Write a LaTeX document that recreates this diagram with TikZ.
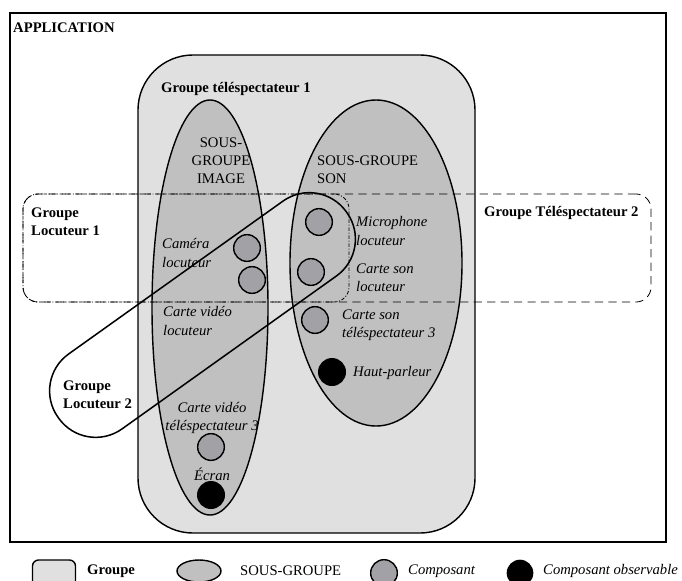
\documentclass[tikz,border=0pt]{standalone}
\usepackage{fontspec}
\setmainfont{Liberation Serif}
\usetikzlibrary{positioning,shapes.geometric}
\definecolor{grpGray}{RGB}{224,224,224}
\definecolor{subGray}{RGB}{192,192,192}
\definecolor{compGray}{RGB}{162,162,166}
\tikzset{
    base/.style={font=\fontsize{12.5}{15.5}\selectfont, inner sep=0pt},
    title/.style={base, font=\fontsize{12.5}{15.5}\selectfont\bfseries, align=left, anchor=west},
    plain/.style={base, align=left, anchor=west},
    remark/.style={base, font=\fontsize{12.5}{15.5}\selectfont\itshape, align=left, anchor=west},
    groupbox/.style={rectangle, draw, line width=1.2pt, fill=grpGray, rounded corners=1.65cm, inner sep=0pt},
    subgroup/.style={ellipse, draw, line width=1.2pt, fill=subGray, inner sep=0pt},
    comp/.style={circle, draw, line width=1.2pt, fill=compGray, minimum size=0.8cm, inner sep=0pt},
    obscomp/.style={circle, fill=black, minimum size=0.84cm, inner sep=0pt},
    gatherdash/.style={rectangle, draw, line width=0.7pt, rounded corners=0.45cm, inner sep=0pt,
                       minimum width=18.84cm, minimum height=3.24cm, dash pattern=on 7pt off 4.5pt},
    gatherdot/.style={rectangle, draw, line width=0.7pt, rounded corners=0.45cm, inner sep=0pt,
                      minimum width=9.78cm, minimum height=3.24cm, dash pattern=on 3pt off 1.5pt on 0.8pt off 1.5pt}
}
\begin{document}
\begin{tikzpicture}[x=0.03cm, y=-0.03cm]
  \useasboundingbox (0,0) rectangle (682,580);
  \clip (0,0) rectangle (682,580);

  % Application frame
  \node[rectangle, draw, line width=1.7pt, minimum width=19.68cm, minimum height=15.87cm, inner sep=0pt] (app) at (338,277.5) {};
  \node[title] (appname) at (13,28) {APPLICATION};

  % Groupe telespectateur 1 and its sub-groups
  \node[groupbox, minimum width=10.11cm, minimum height=14.34cm] (tel1) at (306.5,294) {};
  \node[title] (tel1name) at (161,89) {Groupe téléspectateur 1};
  \node[subgroup, minimum width=3.48cm, minimum height=12.45cm] (image) at (210,307.5) {};
  \node[subgroup, minimum width=5.16cm, minimum height=9.78cm] (son) at (376,263) {};
  \node[base, align=center] (imagename) at (221,161) {SOUS-\\GROUPE\\IMAGE};
  \node[plain] (sonname) at (317,170) {SOUS-GROUPE\\SON};

  % Dashed groups
  \node[gatherdash] (tel2) at (337,248) {};
  \node[gatherdot] (loc1) at (186,248) {};
  \node[title] (tel2name) at (484,213) {Groupe Téléspectateur 2};
  \node[title] (loc1name) at (31,222) {Groupe\\Locuteur 1};

  % Groupe Locuteur 2
  \node[rectangle, draw, line width=1.3pt, rounded corners=1.36cm, minimum width=10.62cm,
        minimum height=2.76cm, rotate=35.5, inner sep=0pt] (loc2) at (202.5,315) {};
  \node[title] (loc2name) at (63,395) {Groupe\\Locuteur 2};

  % Composants
  \node[comp] (camera) at (247,248) {};
  \node[comp] (cvloc) at (252,280) {};
  \node[comp] (micro) at (319,222) {};
  \node[comp] (csloc) at (311,272) {};
  \node[comp] (cstel) at (315,320) {};
  \node[obscomp] (hp) at (332,372) {};
  \node[comp] (cvtel) at (211,447) {};
  \node[obscomp] (ecran) at (211,495) {};

  \node[remark] (cameraname) at (162,253) {Caméra\\locuteur};
  \node[remark] (cvlocname) at (163,321) {Carte vidéo\\locuteur};
  \node[remark] (microname) at (356,231) {Microphone\\locuteur};
  \node[remark] (cslocname) at (356,278) {Carte son\\locuteur};
  \node[remark] (cstelname) at (342,325) {Carte son\\téléspectateur 3};
  \node[remark] (hpname) at (353,373) {Haut-parleur};
  \node[remark, align=center, anchor=center] (cvtelname) at (212,418) {Carte vidéo\\téléspectateur 3};
  \node[remark, anchor=center] (ecranname) at (212,474) {Écran};

  % Legend
  \node[rectangle, draw, line width=1.2pt, fill=grpGray, rounded corners=0.18cm,
        minimum width=1.29cm, minimum height=0.9cm, inner sep=0pt] (leggrp) at (54,575) {};
  \node[title] (leggrpname) at (87,571) {Groupe};
  \node[ellipse, draw, line width=1.2pt, fill=subGray, minimum width=1.32cm,
        minimum height=0.66cm, inner sep=0pt] (legsub) at (199,571) {};
  \node[plain] (legsubname) at (240,571) {SOUS-GROUPE};
  \node[comp] (legcomp) at (384,573) {};
  \node[remark] (legcompname) at (408,571) {Composant};
  \node[obscomp, minimum size=0.8cm] (legobs) at (520,573) {};
  \node[remark] (legobsname) at (543,571) {Composant observable};
\end{tikzpicture}
\end{document}
